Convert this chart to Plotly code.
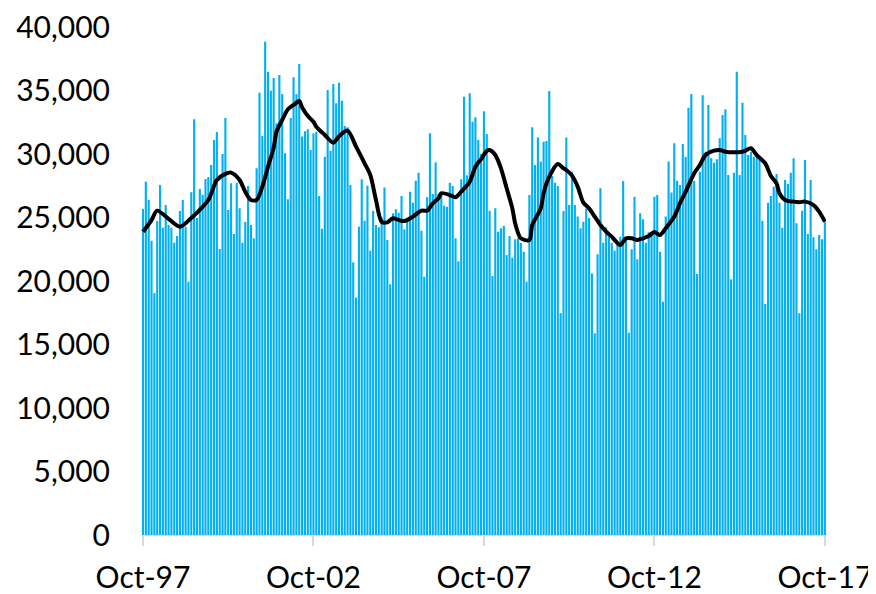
import pandas as pd
import plotly.graph_objects as go

# Monthly categories Oct-97 .. Oct-17
months = pd.date_range("1997-10-01", periods=241, freq="MS")
month_labels = [d.strftime("%b-%y") for d in months]

# Monthly bar values
bar_values = [
    25670, 27820, 26380, 23170, 19050, 24720, 27560, 24200, 25980, 24410,
    24200, 23020, 23540, 25510, 26380, 24280, 19950, 26980, 32730, 24960,
    27240, 26800, 28030, 28190, 29130, 31100, 31730, 22520, 30000, 32830,
    25590, 27690, 23700, 27740, 25720, 23020, 24650, 27480, 24410, 23360,
    28870, 34830, 31420, 38840, 36480, 34990, 35980, 32420, 36220, 34720,
    30050, 26430, 32830, 36040, 34720, 37090, 31370, 31790, 31940, 30320,
    31630,
    31760, 26690, 24120, 29790, 35040, 30260, 35510, 33990, 35620, 34200,
    32200, 32100, 27560, 21470, 18690, 24280, 28010, 24750, 27500, 22390,
    25510, 24410, 24230, 25000, 27370, 23230, 19740, 25330, 25640, 25380,
    26690, 24070, 24800, 27030, 26170, 27900, 28530, 23960, 20340, 26590,
    31630, 26850, 29350, 26850, 26900, 25930, 25850, 27740, 27480, 23360,
    21550, 28010, 34510, 28320, 34780, 32540, 32890, 31100, 30000, 33360,
    31570, 25540, 20390, 25720, 23880, 24150, 24330, 22050, 23540, 21840,
    23280, 23360, 23000, 22310, 19950, 26770, 32100, 29130, 31290, 29400,
    30970, 31020, 34960, 28270, 27740, 27480, 17460, 25510, 31290, 25980,
    28610, 25980, 25070, 24150, 24670, 25700, 24960, 20600, 15880, 22100,
    27300, 23020, 24230, 23490, 23020, 22390, 23090, 23490, 27870, 23230,
    15930, 22500, 26640, 21710, 25330, 24860, 23020, 23830, 23750, 26640,
    26770,
    22310, 18370, 25070, 29400, 26960, 30840, 27900, 27560, 30790, 29790,
    33650, 34720, 27870, 20550, 28600, 34620, 30180, 33860, 29660, 29320,
    29580, 31240, 33070, 33520, 28350, 20130, 28530, 36480, 28350, 34040,
    31500, 29920, 30180, 29790, 29740, 29580, 24750, 18190, 26170, 26690,
    27430, 28430, 26170, 24200, 27950, 27640, 28530, 29660, 24540, 17460,
    25540, 29530, 23700, 27950, 23440, 22500, 23620, 23280, 24700,
]

# Moving-average line, read at selected months (index into months)
line_months = [
    0, 3, 5, 9, 13, 17, 19, 23, 26, 29, 31, 34, 36, 38, 40, 42, 44, 46, 47, 49,
    51, 53, 55, 56, 58, 60, 61, 64, 67, 69, 72, 75, 78, 80, 82, 84, 86, 88, 90,
    92, 95, 98, 100, 102, 104, 105, 108, 110, 112, 115, 117, 119, 121, 122,
    124, 126, 128, 130, 131, 133, 136, 137, 140, 141, 143, 146, 148, 149, 151,
    153, 155, 157, 159, 161, 163, 165, 166, 168, 170, 172, 174, 176, 178, 180,
    182, 184, 187, 189, 191, 194, 196, 198, 201, 203, 205, 208, 211, 212, 214,
    216, 219, 221, 223, 224, 226, 229, 231, 233, 236, 238, 240,
]
line_values = [
    23880, 24800, 25540, 24900, 24280, 24960, 25380, 26380, 27950, 28430,
    28530, 27950, 27030, 26380, 26380, 27430, 29000, 30500, 31760, 32680,
    33520, 33860, 34170, 33670, 33000, 32540, 32150, 31500, 30890, 31400,
    31840, 30580, 29270, 28350, 26380, 24670, 24620, 24940, 24800,
    24720, 25070, 25540, 25540, 26120, 26510, 26910, 26770, 26590, 27030,
    27820, 29000, 29600, 30250, 30320,
    29920, 28870, 27300, 25720, 24540, 23360, 23230, 24410, 25720, 26910,
    28210, 29210, 28870, 28740, 28300,
    27430, 26170, 25720, 25070, 24410, 23880, 23490, 23230, 22830, 23360,
    23360, 23230, 23360, 23540, 23850,
    23620, 24150, 25070, 26120, 27030, 28480, 29130, 29920, 30260, 30320,
    30180, 30130, 30180, 30260, 30450,
    29920, 29270, 28270, 27690, 26910, 26380, 26250, 26210, 26250, 25980,
    25460, 24670,
]

tick_idx = [0, 60, 120, 180, 240]
tick_text = [month_labels[i] for i in tick_idx]
y_ticks = [0, 5000, 10000, 15000, 20000, 25000, 30000, 35000, 40000]

FONT = "Lato, Open Sans, sans-serif"
FSIZE = 30

fig = go.Figure()
fig.add_trace(go.Bar(
    x=list(range(len(months))), y=bar_values,
    marker=dict(color="#00B0F0", line=dict(width=0)),
    hoverinfo="skip", showlegend=False,
))
fig.add_trace(go.Scatter(
    x=line_months, y=line_values, mode="lines",
    line=dict(color="black", width=4, shape="spline", smoothing=0.8),
    hoverinfo="skip", showlegend=False,
))

# page body has an 8px margin; compensate so the plot area lands where the reference's does
fig.update_layout(
    width=876, height=594,
    margin=dict(l=133, r=58, t=19, b=67, autoexpand=False),
    paper_bgcolor="white", plot_bgcolor="white",
    bargap=0.25,
    font=dict(family=FONT, size=FSIZE, color="black"),
)
fig.update_xaxes(
    automargin=False,
    range=[-0.7, 240.4],
    tickmode="array", tickvals=tick_idx, ticktext=tick_text,
    ticks="outside", ticklen=10, tickwidth=1.5, tickcolor="#d9d9d9",
    showline=True, linecolor="#d9d9d9", linewidth=1,
    showgrid=False, zeroline=False,
    ticklabelstandoff=6,
    ticklabeloverflow="allow",
    tickfont=dict(family=FONT, size=FSIZE, color="black"),
)
fig.update_yaxes(
    automargin=False,
    range=[0, 40000],
    tickmode="array", tickvals=y_ticks,
    tickformat=",",
    showgrid=False, zeroline=False, showline=False,
    ticks="",
    ticklabelstandoff=30,
    ticklabeloverflow="allow",
    tickfont=dict(family=FONT, size=FSIZE, color="black"),
)

fig.write_html("out.html")
